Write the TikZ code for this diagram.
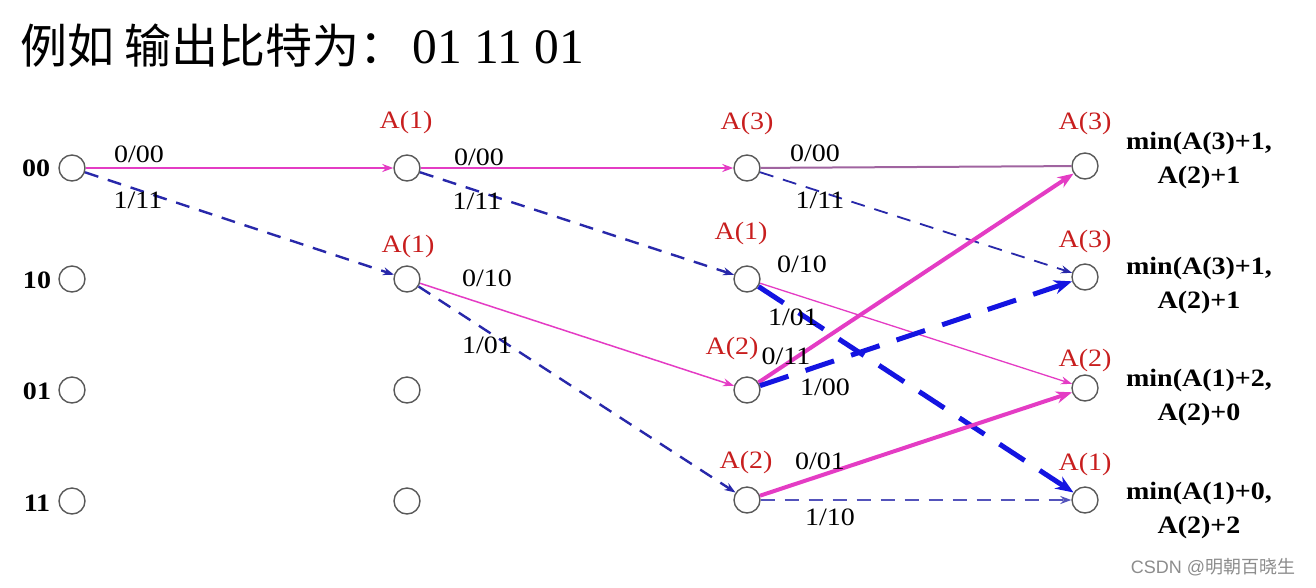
\documentclass[tikz,border=0pt]{standalone}
\usepackage{fontspec}
\setmainfont[FakeStretch=1.12]{Liberation Serif}
\newfontfamily\cjk{Noto Sans CJK SC}
\newfontfamily\titlenum{Liberation Serif}
\newfontfamily\wm{Liberation Sans}
\usetikzlibrary{arrows.meta}
\definecolor{mag}{RGB}{228,60,196}
\definecolor{dblue}{RGB}{40,40,170}
\definecolor{bblue}{RGB}{20,20,225}
\definecolor{gpur}{RGB}{160,100,160}
\definecolor{redlab}{RGB}{200,30,30}
\tikzset{
  x=1pt,y=-1pt,
  st/.style={circle,draw=black!65,line width=1.4pt,minimum size=26pt,inner sep=0pt,fill=white},
  lab/.style={font=\fontsize{25}{27}\selectfont,inner sep=0pt},
  red/.style={font=\fontsize{25}{27}\selectfont,text=redlab,inner sep=0pt},
  mthin/.style={draw=mag,line width=1.8pt,-{Stealth[length=11pt,width=8pt]}},
  mthick/.style={draw=mag,line width=4pt,-{Stealth[length=16pt,width=12pt]}},
  bthin/.style={draw=dblue,line width=2.4pt,dash pattern=on 14pt off 10pt,-{Stealth[length=11pt,width=8pt]}},
  bthick/.style={draw=bblue,line width=5pt,dash pattern=on 30pt off 18pt,-{Stealth[length=18pt,width=14pt]}},
  mintext/.style={font=\fontsize{25}{34}\selectfont\bfseries,align=center,inner sep=0pt}
}
\begin{document}
\begin{tikzpicture}
\useasboundingbox (0,0) rectangle (1316,587);
% title
\node[anchor=west,inner sep=0pt] (title) at (20,46) {\cjk\fontsize{47}{49}\selectfont 例如 输出比特为：\kern6pt\titlenum\fontsize{49.5}{51}\selectfont 01 11 01};
% states
\node[lab,font=\fontsize{25}{27}\selectfont\bfseries] (s00) at (36,168) {00};
\node[lab,font=\fontsize{25}{27}\selectfont\bfseries] (s10) at (37,280) {10};
\node[lab,font=\fontsize{25}{27}\selectfont\bfseries] (s01) at (37,391) {01};
\node[lab,font=\fontsize{25}{27}\selectfont\bfseries] (s11) at (37,503) {11};
% nodes
\node[st] (a1) at (72,168) {};
\node[st] (a2) at (72,279) {};
\node[st] (a3) at (72,390) {};
\node[st] (a4) at (72,501) {};
\node[st] (b1) at (407,168) {};
\node[st] (b2) at (407,279) {};
\node[st] (b3) at (407,390) {};
\node[st] (b4) at (407,501) {};
\node[st] (c1) at (747,168) {};
\node[st] (c2) at (747,279) {};
\node[st] (c3) at (747,390) {};
\node[st] (c4) at (747,500) {};
\node[st] (d1) at (1085,166) {};
\node[st] (d2) at (1085,277) {};
\node[st] (d3) at (1085,388) {};
\node[st] (d4) at (1085,500) {};
% edges
\draw[mthin] (a1) -- (b1);
\draw[bthin] (a1) -- (b2);
\draw[mthin] (b1) -- (c1);
\draw[bthin] (b1) -- (c2);
\draw[mthin,line width=1.5pt] (b2) -- (c3);
\draw[bthin] (b2) -- (c4);
\draw[draw=gpur,line width=2pt] (c1) -- (d1);
\draw[bthin,line width=1.8pt] (c1) -- (d2);
\draw[mthin,line width=1.3pt] (c2) -- (d3);
\draw[bthick] (c2) -- (d4);
\draw[mthick] (c3) -- (d1);
\draw[bthick] (c3) -- (d2);
\draw[mthick] (c4) -- (d3);
\draw[bthin,draw=dblue!80!white] (c4) -- (d4);
% edge labels
\node[lab] (l1) at (139,154) {0/00};
\node[lab] (l2) at (138,200) {1/11};
\node[lab] (l3) at (479,157) {0/00};
\node[lab] (l4) at (477,201) {1/11};
\node[lab] (l5) at (487,278) {0/10};
\node[lab] (l6) at (487,345) {1/01};
\node[lab] (l7) at (815,153) {0/00};
\node[lab] (l8) at (820,200) {1/11};
\node[lab] (l9) at (802,264) {0/10};
\node[lab] (l10) at (793,317) {1/01};
\node[lab] (l11) at (786,356) {0/11};
\node[lab] (l12) at (825,387) {1/00};
\node[lab] (l13) at (820,461) {0/01};
\node[lab] (l14) at (830,517) {1/10};
% red labels
\node[red] (rb1) at (406,122) {A(1)};
\node[red] (rb2) at (408,246) {A(1)};
\node[red] (rc1) at (747,123) {A(3)};
\node[red] (rc2) at (741,233) {A(1)};
\node[red] (rc3) at (732,348) {A(2)};
\node[red] (rc4) at (746,462) {A(2)};
\node[red] (rd1) at (1085,123) {A(3)};
\node[red] (rd2) at (1085,241) {A(3)};
\node[red] (rd3) at (1085,360) {A(2)};
\node[red] (rd4) at (1085,464) {A(1)};
% min texts
\node[mintext] (m1) at (1199,160) {min(A(3)+1,\\A(2)+1};
\node[mintext] (m2) at (1199,285) {min(A(3)+1,\\A(2)+1};
\node[mintext] (m3) at (1199,397) {min(A(1)+2,\\A(2)+0};
\node[mintext] (m4) at (1199,510) {min(A(1)+0,\\A(2)+2};
% watermark
\node[inner sep=0pt,text=black!45] (wmk) at (1213,567) {\wm\fontsize{18}{20}\selectfont CSDN @\cjk 明朝百晓生};
\end{tikzpicture}
\end{document}
